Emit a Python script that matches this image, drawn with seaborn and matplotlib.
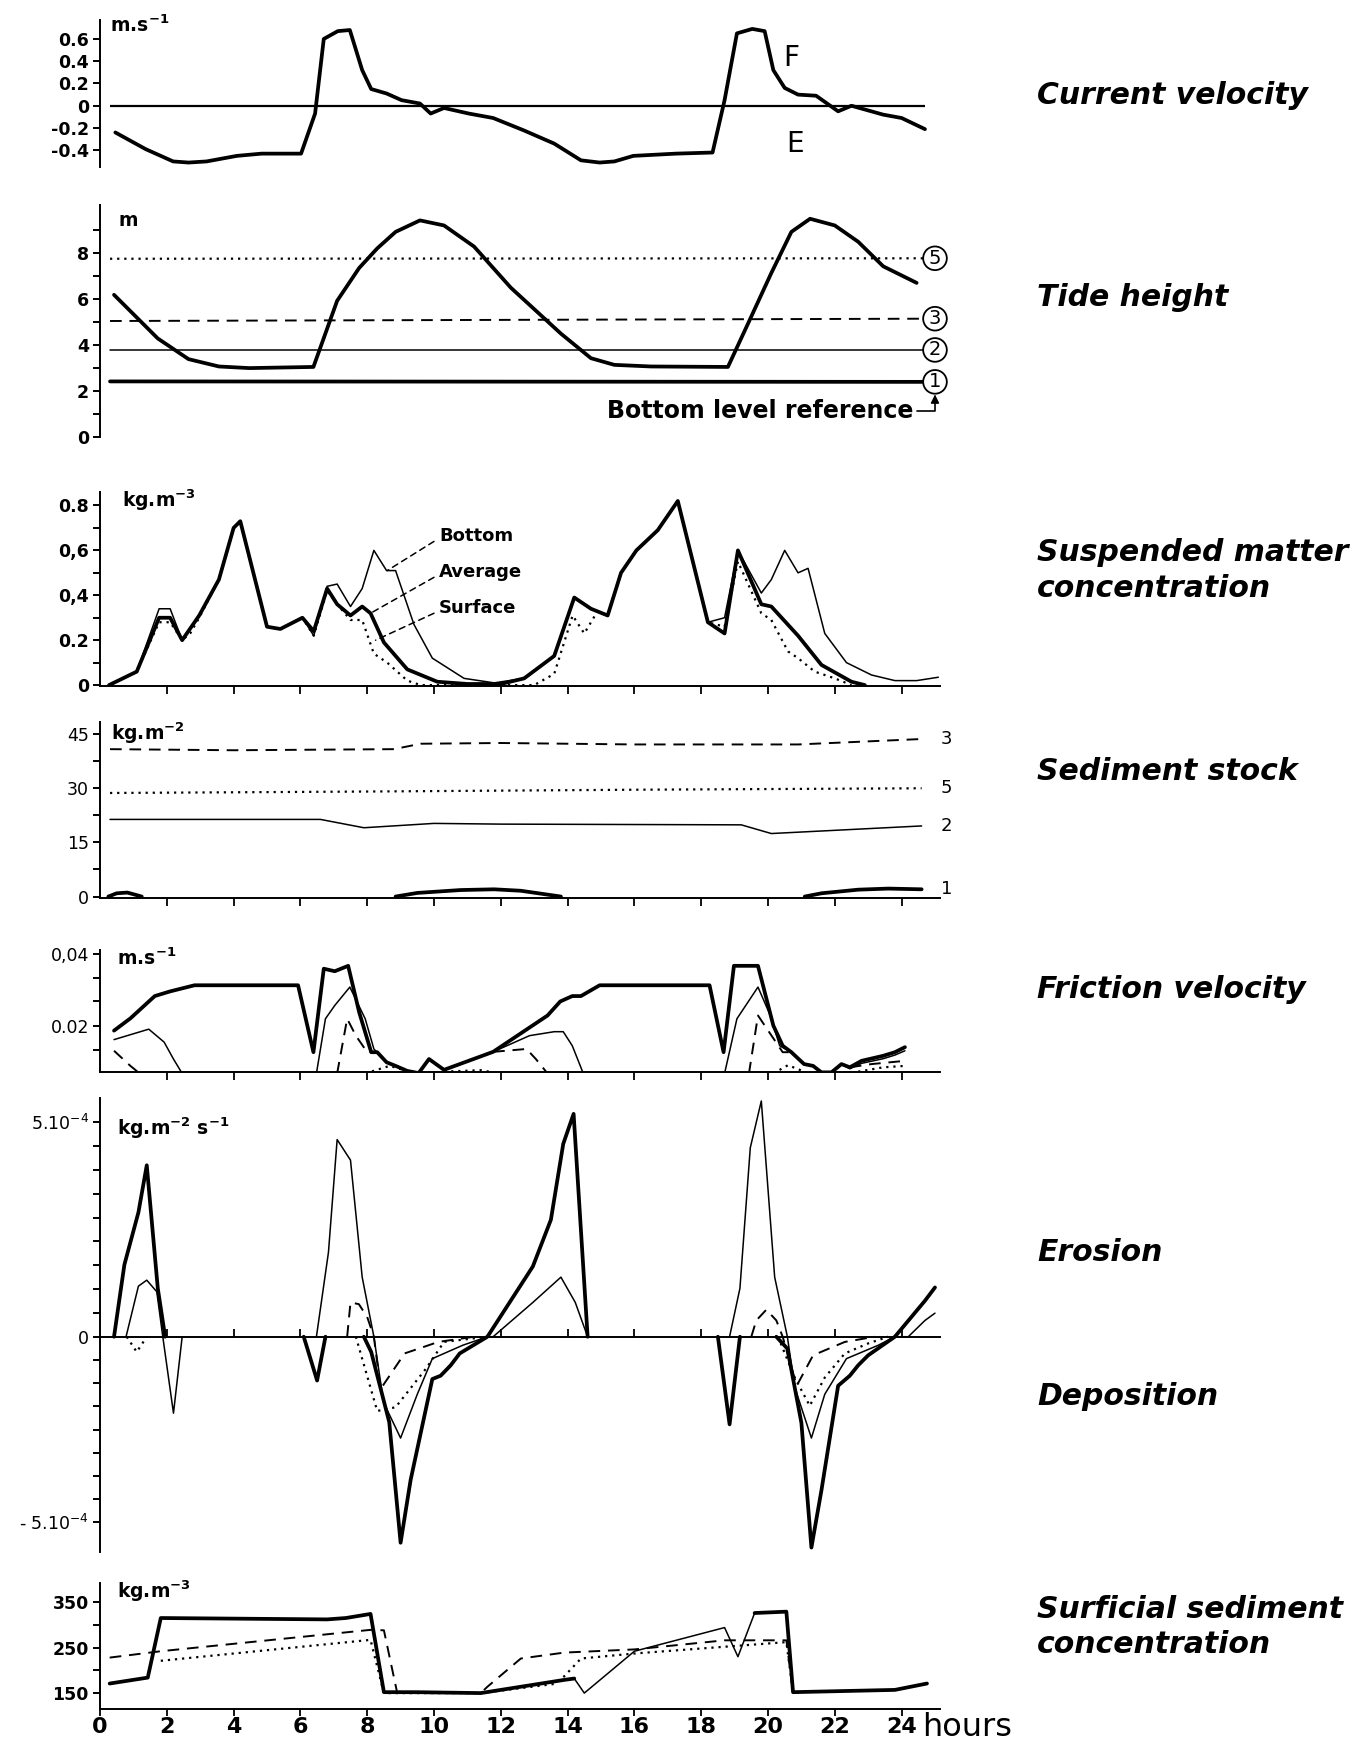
import numpy as np
import pandas as pd
import matplotlib
matplotlib.use("Agg")
import matplotlib.pyplot as plt
import seaborn as sns

# ---------------- data (time in hours) ----------------
# current velocity (m/s)
vel_h = [0.46, 1.37, 2.19, 2.65, 3.19, 4.1, 4.84, 6.02, 6.44, 6.7, 7.12, 7.48, 7.85, 8.12, 8.58,
         9.03, 9.58, 9.9, 10.3, 11.04, 11.77, 12.68, 13.6, 14.4, 14.96, 15.4, 15.97, 17.24, 18.34,
         18.7, 19.07, 19.53, 19.9, 20.16, 20.5, 20.9, 21.44, 22.1, 22.5, 23.45, 24.0, 24.7]
vel_v = [-0.24, -0.39, -0.50, -0.51, -0.50, -0.45, -0.43, -0.43, -0.07, 0.60, 0.67, 0.68, 0.32, 0.15, 0.11,
         0.05, 0.02, -0.07, -0.02, -0.07, -0.11, -0.22, -0.34, -0.49, -0.51, -0.50, -0.45, -0.43, -0.42,
         0.05, 0.65, 0.69, 0.67, 0.32, 0.16, 0.10, 0.09, -0.05, 0.0, -0.08, -0.11, -0.21]

# tide height (m)
tide_h = [0.42, 1.73, 2.65, 3.56, 4.47, 6.39, 7.1, 7.76, 8.3, 8.85, 9.58, 10.3, 11.2, 12.3, 13.05,
          13.8, 14.7, 15.4, 16.5, 18.8, 19.4, 20.1, 20.7, 21.26, 22.0, 22.7, 23.45, 24.45]
tide_v = [6.19, 4.29, 3.39, 3.07, 3.0, 3.05, 5.93, 7.36, 8.21, 8.93, 9.43, 9.21, 8.29, 6.5, 5.5,
          4.5, 3.43, 3.14, 3.07, 3.05, 4.93, 7.14, 8.93, 9.5, 9.21, 8.5, 7.43, 6.71]
lev_h = [0.3, 24.7]
lev5_v = [7.76, 7.78]
lev3_v = [5.05, 5.15]
lev2_v = [3.79, 3.79]
lev1_v = [2.42, 2.40]
lev_names = ['5', '3', '2', '1']

# suspended matter concentration (kg/m3)
spm_avg_h = [0.27, 1.1, 1.77, 2.1, 2.46, 2.97, 3.56, 4.0, 4.2, 5.0, 5.4, 6.06, 6.4, 6.8, 7.1,
             7.5, 7.85, 8.1, 8.5, 9.2, 10.1, 11.0, 12.0, 12.7, 13.6, 14.2, 14.7, 15.2, 15.6, 16.06,
             16.7, 17.3, 18.2, 18.7, 19.1, 19.8, 20.1, 20.9, 21.6, 22.5, 22.9]
spm_avg_v = [0, 0.06, 0.30, 0.30, 0.20, 0.31, 0.47, 0.70, 0.73, 0.26, 0.25, 0.30, 0.24, 0.43, 0.36,
             0.31, 0.35, 0.32, 0.19, 0.07, 0.015, 0.005, 0.005, 0.03, 0.13, 0.39, 0.34, 0.31, 0.50, 0.60,
             0.69, 0.82, 0.28, 0.23, 0.60, 0.36, 0.35, 0.22, 0.09, 0.015, 0.0]
spm_bot_h = [0.27, 1.1, 1.77, 2.1, 2.46, 2.97, 3.56, 4.0, 4.2, 5.0, 5.4, 6.06, 6.4, 6.8, 7.1,
             7.5, 7.85, 8.2, 8.58, 8.85, 9.4, 9.95, 10.9, 11.8, 12.7, 13.6, 14.2, 14.7, 15.2, 15.6,
             16.06, 16.7, 17.3, 18.2, 18.7, 19.1, 19.8, 20.1, 20.5, 20.9, 21.2, 21.7, 22.35, 23.1, 23.8,
             24.45, 25.1]
spm_bot_v = [0, 0.06, 0.34, 0.34, 0.20, 0.31, 0.47, 0.70, 0.73, 0.26, 0.25, 0.30, 0.22, 0.44, 0.45,
             0.35, 0.43, 0.60, 0.51, 0.51, 0.27, 0.12, 0.03, 0.01, 0.03, 0.13, 0.39, 0.34, 0.31, 0.50,
             0.60, 0.69, 0.82, 0.28, 0.30, 0.60, 0.41, 0.47, 0.60, 0.50, 0.52, 0.23, 0.10, 0.045, 0.02,
             0.02, 0.035]
spm_surf_h = [0.27, 1.1, 1.77, 2.1, 2.46, 2.7, 2.97, 3.56, 4.0, 4.2, 5.0, 5.4, 6.06, 6.4, 6.8,
              7.1, 7.5, 7.85, 8.2, 8.6, 9.2, 9.6, 13.0, 13.6, 14.15, 14.5, 14.9, 15.2, 15.6, 16.06,
              16.7, 17.3, 18.2, 18.7, 19.1, 19.8, 20.1, 20.6, 20.9, 21.4, 22.0, 22.5]
spm_surf_v = [0, 0.06, 0.28, 0.28, 0.20, 0.23, 0.30, 0.47, 0.70, 0.73, 0.26, 0.25, 0.30, 0.22, 0.42,
              0.36, 0.29, 0.29, 0.14, 0.10, 0.02, 0.0, 0.0, 0.05, 0.31, 0.23, 0.33, 0.31, 0.50, 0.60,
              0.69, 0.82, 0.28, 0.26, 0.55, 0.32, 0.29, 0.15, 0.12, 0.06, 0.03, 0.0]
spm_names = ['Bottom', 'Average', 'Surface']
spm_name_v = [0.665, 0.505, 0.345]
spm_target_h = [8.6, 8.1, 8.25]
spm_target_v = [0.51, 0.32, 0.20]

# sediment stock (kg/m2) in layers 3, 5, 2, 1
st3_h = [0.3, 4.0, 8.8, 9.6, 12.0, 16.0, 20.9, 24.6]
st3_v = [40.7, 40.4, 40.7, 42.2, 42.4, 42.0, 42.0, 43.5]
st5_h = [0.3, 8.0, 16.0, 24.6]
st5_v = [28.6, 29.0, 29.5, 29.9]
st2_h = [0.3, 6.6, 7.9, 10.0, 12.0, 19.2, 20.1, 24.6]
st2_v = [21.3, 21.3, 19.0, 20.2, 20.0, 19.8, 17.4, 19.5]
st1_h = [0.25, 0.5, 0.82, 1.25, 8.85, 9.5, 10.8, 11.8, 12.6, 13.8, 21.1, 21.6, 22.7, 23.6, 24.6]
st1_v = [0, 0.9, 1.1, 0, 0, 1.0, 1.8, 2.0, 1.6, 0, 0, 0.9, 1.9, 2.2, 2.0]
st1_seg = [0] * 4 + [1] * 6 + [2] * 5
st_names = ['3', '5', '2', '1']
st_name_v = [43.5, 30.0, 19.5, 2.0]

# friction velocity (m/s)
fr_thick_h = [0.42, 0.91, 1.64, 2.1, 2.83, 5.93, 6.39, 6.7, 7.03, 7.43, 7.76, 8.12, 8.3, 8.58, 8.85,
              9.2, 9.54, 9.85, 10.3, 11.77, 13.4, 13.78, 14.14, 14.4, 14.96, 18.25, 18.67, 18.98, 19.7, 20.16,
              20.44, 20.7, 21.08, 21.35, 21.6, 21.9, 22.2, 22.45, 22.8, 23.45, 23.8, 24.1]
fr_thick_v = [0.0186, 0.0220, 0.0282, 0.0295, 0.0312, 0.0312, 0.0126, 0.0358, 0.0351, 0.0366, 0.0237, 0.0126, 0.0126, 0.0098, 0.0088,
              0.0074, 0.0068, 0.0107, 0.0077, 0.0127, 0.0228, 0.0267, 0.0282, 0.0282, 0.0312, 0.0312, 0.0126, 0.0366, 0.0366, 0.0200,
              0.0144, 0.0126, 0.0093, 0.0088, 0.0070, 0.0070, 0.0093, 0.0084, 0.0102, 0.0116, 0.0126, 0.0140]
fr_thin_h = [0.42, 1.46, 1.92, 2.2, 2.46, 6.48, 6.75, 7.03, 7.48, 7.94, 8.2, 8.58, 8.85, 9.2, 9.54,
             9.85, 10.3, 11.77, 12.86, 13.6, 13.87, 14.14, 14.47, 18.7, 19.07, 19.7, 20.07, 20.35, 20.7, 21.08,
             21.35, 21.6, 21.9, 22.2, 22.45, 22.8, 23.45, 23.8, 24.1]
fr_thin_v = [0.0161, 0.0190, 0.0154, 0.0107, 0.0067, 0.0067, 0.0219, 0.0256, 0.0307, 0.0219, 0.0135, 0.0098, 0.0088, 0.0074, 0.0068,
             0.0107, 0.0077, 0.0127, 0.0172, 0.0183, 0.0183, 0.0144, 0.0067, 0.0067, 0.0219, 0.0307, 0.0228, 0.0144, 0.0126, 0.0093,
             0.0088, 0.0070, 0.0070, 0.0093, 0.0080, 0.0095, 0.0108, 0.0118, 0.0130]
fr_dash_h = [0.42, 0.91, 1.19, 7.1, 7.4, 7.66, 8.0, 8.3, 11.77, 12.77, 13.05, 13.4,
             19.43, 19.7, 20.07, 20.44, 20.7, 22.45, 23.1, 24.1]
fr_dash_v = [0.0130, 0.0088, 0.0067, 0.0067, 0.0219, 0.0172, 0.0126, 0.0126, 0.0127, 0.0135, 0.0107, 0.0067,
             0.0067, 0.0228, 0.0177, 0.0126, 0.0126, 0.0084, 0.0093, 0.0102]
fr_dash_seg = [0] * 3 + [1] * 5 + [2] * 4 + [3] * 5 + [4] * 3
fr_dot_h = [7.94, 8.67, 9.2, 10.3, 11.4, 11.77, 20.16, 20.6, 21.0, 22.7, 23.45, 24.1]
fr_dot_v = [0.0067, 0.0088, 0.0074, 0.0072, 0.0076, 0.0070, 0.0067, 0.0090, 0.0075, 0.0072, 0.0084, 0.0088]
fr_dot_seg = [0] * 3 + [1] * 3 + [2] * 3 + [3] * 3

# erosion (+) / deposition (-), in 1e-4 kg m-2 s-1
ed_thick_h = [0.42, 0.73, 1.15, 1.4, 1.73, 1.95,
              6.1, 6.5, 6.75,
              7.9, 8.12, 8.66, 9.0, 9.3, 9.95, 10.2, 10.5, 10.77, 11.6, 12.96, 13.5, 13.87, 14.18, 14.6,
              18.5, 18.85, 19.16,
              20.25, 20.58, 21.0, 21.3, 21.6, 22.1, 22.45, 22.7, 23.0, 23.8, 24.7, 25.0]
ed_thick_v = [0, 1.68, 2.9, 4.0, 1.13, 0,
              0, -1.18, 0,
              0, -0.41, -2.3, -5.55, -3.86, -1.14, -1.05, -0.77, -0.45, 0, 1.64, 2.73, 4.5, 5.2, 0,
              0, -2.36, 0,
              0, -0.32, -2.32, -5.68, -4.14, -1.32, -1.05, -0.77, -0.5, 0, 0.84, 1.15]
ed_thick_seg = [0] * 6 + [1] * 3 + [2] * 15 + [3] * 3 + [4] * 12
ed_thin_h = [0.78, 1.15, 1.4, 1.7, 1.88, 2.2, 2.46,
             6.48, 6.84, 7.1, 7.5, 7.85, 8.2, 8.49, 9.0, 9.5, 9.95, 10.86, 11.6, 11.77, 12.96, 13.8, 14.23, 14.6,
             18.85, 19.16, 19.47, 19.8, 20.2, 20.58, 20.8, 21.3, 21.7, 22.35, 23.3, 23.8, 24.2, 24.7, 25.0]
ed_thin_v = [0, 1.18, 1.32, 1.05, 0, -2.06, 0,
             0, 1.97, 4.6, 4.12, 1.39, 0, -1.77, -2.73, -1.55, -0.59, -0.23, 0, 0, 0.8, 1.39, 0.8, 0,
             0, 1.13, 4.41, 5.5, 1.39, 0, -1.36, -2.73, -1.55, -0.59, -0.23, 0, 0, 0.38, 0.55]
ed_thin_seg = [0] * 7 + [1] * 17 + [2] * 15
ed_dash_h = [7.4, 7.5, 7.75, 8.0, 8.2, 8.4, 9.12, 10.13, 11.2,
             19.5, 19.65, 19.95, 20.25, 20.44, 20.86, 21.35, 22.3, 23.2]
ed_dash_v = [0, 0.8, 0.76, 0.46, 0, -1.41, -0.45, -0.14, 0,
             0, 0.38, 0.63, 0.38, 0, -1.32, -0.5, -0.14, 0]
ed_dash_seg = [0] * 9 + [1] * 9
ed_dot_h = [0.8, 1.1, 1.4, 7.66, 8.3, 8.85, 9.76, 10.3, 11.6,
            20.3, 20.8, 21.25, 21.7, 22.3, 23.0, 23.6]
ed_dot_v = [0, -0.41, 0, 0, -2.0, -1.9, -0.86, -0.14, 0,
            0, -1.1, -1.86, -1.1, -0.45, -0.18, 0]
ed_dot_seg = [0] * 3 + [1] * 6 + [2] * 7

# surficial sediment concentration (kg/m3)
sf_thick_h = [0.29, 1.43, 1.82, 6.8, 7.36, 8.1, 8.5, 9.46, 11.4, 13.9, 14.2,
              19.6, 20.55, 20.75, 23.8, 24.76]
sf_thick_v = [171, 184, 315, 312, 315, 324, 152, 152, 150, 179, 182,
              326, 329, 152, 157, 171]
sf_thick_seg = [0] * 11 + [1] * 5
sf_thin_h = [14.2, 14.5, 16.0, 18.7, 19.1, 19.6]
sf_thin_v = [182, 150, 242, 294, 230, 326]
sf_dash_h = [0.29, 1.82, 8.1, 8.5, 8.9, 11.4, 11.6, 12.6, 13.9, 16.0, 18.7, 20.55, 20.75]
sf_dash_v = [228, 242, 289, 288, 150, 150, 164, 226, 239, 246, 266, 266, 152]
sf_dot_h = [1.82, 8.1, 8.5, 11.4, 13.6, 13.9, 14.4, 16.0, 20.55, 20.75]
sf_dot_v = [221, 267, 150, 150, 170, 187, 226, 237, 262, 152]

hour_ticks = list(range(0, 25, 2))

titles = ['Current velocity', 'Tide height', 'Suspended matter\nconcentration', 'Sediment stock',
          'Friction velocity', 'Erosion', 'Deposition', 'Surficial sediment\nconcentration']

# ---------------- style ----------------
sns.set_theme(style="white")
plt.rcParams['font.family'] = ['DejaVu Sans']
plt.rcParams['mathtext.default'] = 'regular'
for key in ['text.color', 'axes.edgecolor', 'xtick.color', 'ytick.color', 'axes.labelcolor']:
    plt.rcParams[key] = 'black'

STYLES = {
    'thick': dict(linewidth=2.7, linestyle='-'),
    'thin': dict(linewidth=1.1, linestyle='-'),
    'dash': dict(linewidth=1.4, linestyle=(0, (6, 4))),
    'dot': dict(linewidth=1.6, linestyle=(0, (1, 2.2))),
}


def draw(ax, h, v, kind, seg=None):
    df = pd.DataFrame({'h': h, 'v': v, 'seg': seg if seg is not None else 0})
    sns.lineplot(data=df, x='h', y='v', units='seg', estimator=None, sort=False,
                 color='black', ax=ax, legend=False, **STYLES[kind])
    ax.set(xlabel='', ylabel='')


W, H = 1369, 1742
L, R = 100, 940
XMAX = 25.15
fig = plt.figure(figsize=(W / 100, H / 100), dpi=100)


def panel(top, bottom):
    ax = fig.add_axes([L / W, 1 - bottom / H, (R - L) / W, (bottom - top) / H])
    ax.set_facecolor('white')
    return ax


def finish(ax, ylim, yticks, ylabels, bold=True, xaxis=True):
    ax.set_xlim(0, XMAX)
    ax.set_ylim(*ylim)
    ax.set_yticks(yticks)
    ax.set_yticklabels(ylabels, fontweight='bold' if bold else 'normal')
    ax.tick_params(axis='y', direction='out', length=5, width=1.4, pad=3, labelsize=12.5, left=True)
    for s in ['top', 'right']:
        ax.spines[s].set_visible(False)
    ax.spines['left'].set_linewidth(1.4)
    if xaxis:
        ax.spines['bottom'].set_linewidth(1.4)
        ax.set_xticks(hour_ticks[1:])
        ax.tick_params(axis='x', direction='out', length=6, width=1.3, bottom=True, labelbottom=False)
    else:
        ax.spines['bottom'].set_visible(False)
        ax.tick_params(axis='x', bottom=False, labelbottom=False)


# ---- 1 current velocity
ax1 = panel(20, 167)
draw(ax1, vel_h, vel_v, 'thick')
ax1.hlines(0, 0.3, 24.7, color='black', lw=1.6)
ax1.text(20.7, 0.43, 'F', fontsize=20, ha='center', va='center')
ax1.text(20.8, -0.34, 'E', fontsize=20, ha='center', va='center')
finish(ax1, (-0.55, 0.77), [-0.4, -0.2, 0, 0.2, 0.4, 0.6],
       ['-0.4', '-0.2', '0', '0.2', '0.4', '0.6'], xaxis=False)

# ---- 2 tide height
ax2 = panel(205, 437)
draw(ax2, tide_h, tide_v, 'thick')
for vals, kind in zip([lev5_v, lev3_v, lev2_v, lev1_v], ['dot', 'dash', 'thin', 'thick']):
    draw(ax2, lev_h, vals, kind)
for name, vals in zip(lev_names, [lev5_v, lev3_v, lev2_v, lev1_v]):
    ax2.text(25.0, vals[-1], name, ha='center', va='center', fontsize=14, clip_on=False,
             bbox=dict(boxstyle='circle,pad=0.12', fc='white', ec='black', lw=1.3))
ax2.text(24.35, 1.15, 'Bottom level reference', ha='right', va='center', fontsize=17,
         fontweight='bold')
ax2.annotate('', xy=(25.0, 1.85), xytext=(24.45, 1.15),
             arrowprops=dict(arrowstyle='-|>', connectionstyle='angle,angleA=0,angleB=90,rad=0',
                             color='black', lw=1.2, shrinkA=0, shrinkB=0, mutation_scale=12))
finish(ax2, (0, 10.1), list(range(0, 10)),
       ['0', '', '2', '', '4', '', '6', '', '8', ''], xaxis=False)

# ---- 3 suspended matter
ax3 = panel(492, 686)
draw(ax3, spm_bot_h, spm_bot_v, 'thin')
draw(ax3, spm_surf_h, spm_surf_v, 'dot')
draw(ax3, spm_avg_h, spm_avg_v, 'thick')
for name, yv, th, tv in zip(spm_names, spm_name_v, spm_target_h, spm_target_v):
    ax3.text(10.15, yv, name, ha='left', va='center', fontsize=13, fontweight='bold')
    ax3.annotate('', xy=(th, tv), xytext=(10.0, yv - 0.025),
                 arrowprops=dict(arrowstyle='-', linestyle=(0, (4, 3)), color='black', lw=1.1,
                                 shrinkA=0, shrinkB=0))
finish(ax3, (-0.004, 0.86), [0, 0.1, 0.2, 0.3, 0.4, 0.5, 0.6, 0.7, 0.8],
       ['0', '', '0.2', '', '0,4', '', '0,6', '', '0.8'])

# ---- 4 sediment stock
ax4 = panel(722, 898)
draw(ax4, st3_h, st3_v, 'dash')
draw(ax4, st5_h, st5_v, 'dot')
draw(ax4, st2_h, st2_v, 'thin')
draw(ax4, st1_h, st1_v, 'thick', st1_seg)
for name, yv in zip(st_names, st_name_v):
    ax4.text(25.35, yv, name, ha='center', va='center', fontsize=13, clip_on=False)
finish(ax4, (-0.4, 48.2), [0, 7.5, 15, 22.5, 30, 37.5, 45],
       ['0', '', '15', '', '30', '', '45'], bold=False)

# ---- 5 friction velocity
ax5 = panel(950, 1072)
draw(ax5, fr_thin_h, fr_thin_v, 'thin')
draw(ax5, fr_dash_h, fr_dash_v, 'dash', fr_dash_seg)
draw(ax5, fr_dot_h, fr_dot_v, 'dot', fr_dot_seg)
draw(ax5, fr_thick_h, fr_thick_v, 'thick')
finish(ax5, (0.0071, 0.041), [0.0133, 0.02, 0.0267, 0.0333, 0.04],
       ['', '0.02', '', '', '0,04'], bold=False)

# ---- 6 erosion / deposition (lower half slightly compressed, as drawn)
ax6 = panel(1098, 1552)
ax6.set_yscale('function', functions=(lambda y: np.where(np.asarray(y) < 0, np.asarray(y) * 0.866, y),
                                      lambda y: np.where(np.asarray(y) < 0, np.asarray(y) / 0.866, y)))
draw(ax6, ed_thin_h, ed_thin_v, 'thin', ed_thin_seg)
draw(ax6, ed_dash_h, ed_dash_v, 'dash', ed_dash_seg)
draw(ax6, ed_dot_h, ed_dot_v, 'dot', ed_dot_seg)
draw(ax6, ed_thick_h, ed_thick_v, 'thick', ed_thick_seg)
up = [5 * i / 9 for i in range(1, 10)]
down = [-5 * i / 8 for i in range(8, 0, -1)]
ed_ticks = down + [0] + up
ed_labels = [r'- 5.10$^{-4}$'] + [''] * 7 + ['0'] + [''] * 8 + [r'5.10$^{-4}$']
finish(ax6, (-5.8, 5.57), ed_ticks, ed_labels, bold=False)
ax6.spines['bottom'].set_position(('data', 0))
ax6.tick_params(axis='x', direction='in', length=6)

# ---- 7 surficial sediment concentration
ax7 = panel(1583, 1709)
draw(ax7, sf_dash_h, sf_dash_v, 'dash')
draw(ax7, sf_dot_h, sf_dot_v, 'dot')
draw(ax7, sf_thin_h, sf_thin_v, 'thin')
draw(ax7, sf_thick_h, sf_thick_v, 'thick', sf_thick_seg)
finish(ax7, (115, 392), [150, 200, 250, 300, 350], ['150', '', '250', '', '350'])
ax7.set_xticks(hour_ticks)
ax7.set_xticklabels([str(t) for t in hour_ticks], fontsize=16, fontweight='bold')
ax7.tick_params(axis='x', labelbottom=True, length=5, pad=0.5)

# ---- units and right-hand titles
units = [(110, 25, r'm.s$^{-1}$'), (118, 220, 'm'), (122, 500, r'kg.m$^{-3}$'),
         (111, 733, r'kg.m$^{-2}$'), (117, 958, r'm.s$^{-1}$'), (117, 1128, r'kg.m$^{-2}$ s$^{-1}$'),
         (117, 1591, r'kg.m$^{-3}$')]
for x, y, t in units:
    fig.text(x / W, 1 - y / H, t, fontsize=13.5, fontweight='bold', ha='left', va='center')

title_y = [95.5, 297.8, 570.6, 771, 989, 1252, 1396.6, 1627]
for t, y in zip(titles, title_y):
    fig.text(1037 / W, 1 - y / H, t, fontsize=21.5, fontweight='bold', fontstyle='italic',
             ha='left', va='center', linespacing=1.3)

fig.text(922 / W, 1 - 1727 / H, 'hours', fontsize=23, ha='left', va='center')

fig.savefig('out.png', dpi=100, facecolor='white')
